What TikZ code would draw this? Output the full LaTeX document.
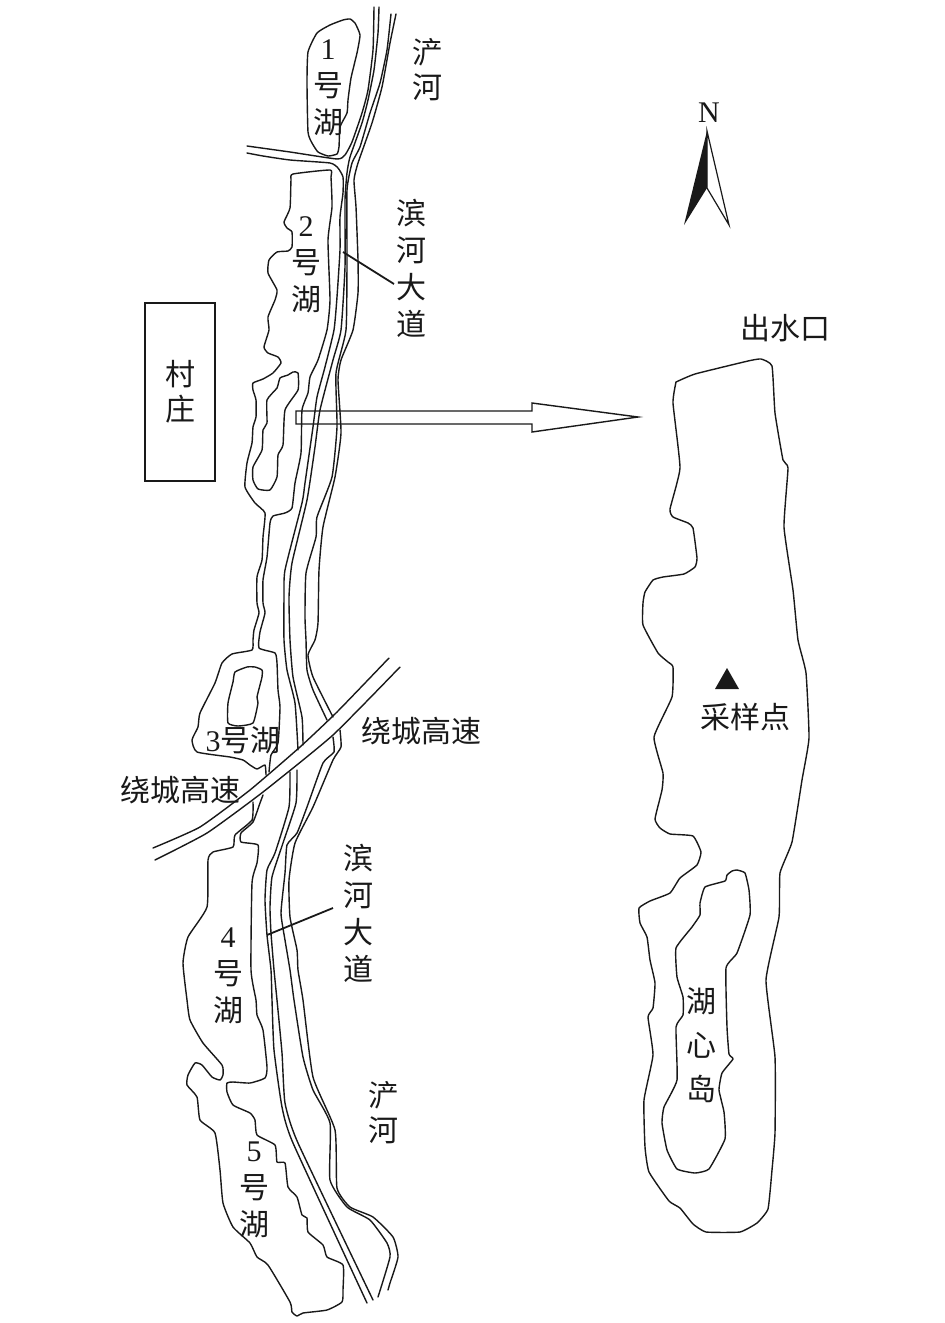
\documentclass[tikz,border=0pt]{standalone}
\usepackage{fontspec}
\setmainfont{Noto Sans CJK SC}
\newfontfamily\cjk{Noto Sans CJK SC}
\newfontfamily\lat{Liberation Serif}
\tikzset{
  ln/.style={draw=black!90,line width=1.4pt,line join=round,line cap=round},
  cvv/.style={smooth,tension=0.3},
  lab/.style={inner sep=0pt,align=center,text=black!90,font=\cjk\fontsize{30}{37}\selectfont},
  leader/.style={draw=black!90,line width=1.8pt}
}
\begin{document}
\begin{tikzpicture}[x=1pt,y=-1pt]
\useasboundingbox (0,0) rectangle (945,1323);
\fill[white] (0,0) rectangle (945,1323);

% lake 1
\draw[ln] plot[smooth cycle,tension=0.3] coordinates {(350,19)(355,23)(360,35)(357,53)(351,78)(348,100)(347,113)(340,127)(339,147)(337,154)(328,156)(318,152)(312,143)(308,132)(307,83)(308,52)(317,33)(330,25)(343,20)};

% roads and river banks, upper part
\draw[ln] plot[cvv] coordinates {(247,146)(290,152)(337,159)(345,155)(352,142)(362,113)(368,90)(373,50)(374,7)};
\draw[ln] plot[cvv] coordinates {(247,153)(263,156)(290,160)(330,163)(338,168)(343,177)(343,193)(340,217)(340,250)(337,297)(334,330)(325,367)(317,397)(313,427)(305,483)(302,503)(285,570)(284,597)(284,640)(287,670)(295,703)(298,750)};
\draw[ln] plot[cvv] coordinates {(379,7)(378,33)(374,70)(368,100)(362,123)(350,157)(347,173)(345,200)(345,267)(341,330)(333,360)(320,410)(315,447)(307,500)(292,563)(289,597)(290,640)(293,677)(302,717)(303,745)};
\draw[ln] plot[cvv] coordinates {(391,14)(387,50)(380,83)(370,113)(360,147)(352,163)(347,190)(347,260)(346,330)(336,373)(337,427)(332,477)(317,517)(316,537)(306,573)(305,617)(306,640)(307,670)(313,690)(327,720)};
\draw[ln] plot[cvv] coordinates {(396,14)(390,43)(382,87)(372,123)(358,163)(354,180)(356,207)(358,260)(358,293)(353,330)(341,360)(338,380)(341,433)(335,477)(323,527)(319,570)(318,623)(315,640)(308,655)(313,677)(333,717)};

% roads and river banks, lower part
\draw[ln] plot[cvv] coordinates {(290,772)(289,807)(275,853)(267,870)(265,900)(267,935)(271,970)(272,1000)(274,1050)(282,1107)(293,1143)(367,1303)};
\draw[ln] plot[cvv] coordinates {(297,770)(296,803)(283,843)(272,877)(270,907)(271,933)(274,970)(277,1000)(282,1053)(285,1103)(298,1143)(373,1300)};
\draw[ln] plot[cvv] coordinates {(333,737)(334,752)(323,763)(307,807)(297,833)(287,845)(285,873)(281,913)(285,940)(290,970)(294,1000)(303,1057)(313,1090)(330,1123)(330,1180)(347,1207)(370,1220)(387,1243)(390,1257)(378,1297)};
\draw[ln] plot[cvv] coordinates {(340,730)(341,747)(333,760)(313,807)(295,843)(289,880)(290,917)(297,950)(298,970)(303,1000)(313,1077)(335,1130)(337,1188)(350,1207)(373,1217)(393,1237)(398,1257)(390,1283)(388,1290)};

% lakes 3 and 2 with the channel between them
\draw[ln] plot[cvv] coordinates {(266,775)(265,765)(257,769)(250,765)(243,760)(230,757)(197,752)(192,740)(198,727)(200,713)(215,683)(222,663)(232,654)(252,650)(253,640)(254,630)(259,613)(257,603)(257,577)(262,560)(263,537)(265,513)(255,503)(245,487)(247,463)(252,443)(253,427)(256,417)(256,400)(253,390)(253,383)(263,379)(273,373)(281,363)(278,357)(268,353)(264,347)(269,330)(268,317)(275,300)(277,290)(268,273)(269,260)(277,252)(288,251)(292,247)(292,232)(287,228)(284,222)(290,208)(291,180)(293,174)(330,170)(331,177)(332,207)(328,240)(330,300)(327,330)(318,360)(310,377)(308,393)(302,410)(301,453)(295,483)(292,508)(285,513)(273,516)(270,523)(267,557)(263,580)(263,603)(265,613)(260,632)(259,648)(275,653)(277,663)(278,690)(280,707)(278,743)(271,755)(269,772)};
% island in lake 2
\draw[ln] plot[smooth cycle,tension=0.3] coordinates {(293,372)(298,373)(298,390)(285,410)(283,445)(278,455)(277,477)(270,490)(258,489)(253,480)(253,467)(262,450)(263,430)(267,423)(267,400)(277,388)(280,378)(288,375)};
% island in lake 3
\draw[ln] plot[smooth cycle,tension=0.3] coordinates {(247,667)(235,672)(233,682)(228,703)(228,723)(238,726)(253,723)(258,703)(257,697)(262,677)(262,670)(255,667)};

% lakes 4 and 5
\draw[ln] plot[cvv] coordinates {(253,802)(252,820)(235,835)(233,847)(213,852)(208,860)(207,907)(188,937)(183,963)(187,1000)(190,1020)(203,1043)(222,1065)(223,1075)(220,1080)(212,1077)(202,1065)(195,1063)(188,1075)(187,1085)(197,1097)(200,1120)(215,1133)(220,1170)(223,1203)(233,1227)(250,1243)(257,1257)(268,1265)(290,1302)(292,1312)(297,1316)(303,1313)(327,1310)(342,1302)(343,1290)(343,1265)(327,1257)(323,1245)(308,1232)(307,1218)(302,1215)(297,1197)(288,1187)(285,1163)(277,1162)(275,1145)(257,1135)(255,1120)(250,1113)(233,1105)(227,1092)(227,1083)(233,1082)(250,1083)(265,1078)(267,1067)(263,1030)(257,1015)(256,1000)(251,970)(252,883)(257,863)(258,845)(241,842)(241,833)(253,822)(260,803)(263,795)};

% highway
\draw[ln] plot[cvv] coordinates {(153,848)(200,827)(250,790)(300,747)(337,712)(389,658)};
\draw[ln] plot[cvv] coordinates {(155,860)(207,833)(263,792)(333,735)(400,667)};

% leader lines
\coordinate (la1) at (343,252);
\coordinate (lb1) at (394,284);
\coordinate (la2) at (267,935);
\coordinate (lb2) at (333,908);
\draw[leader] (la1) -- (lb1);
\draw[leader] (la2) -- (lb2);

% village
\node[lab,font=\cjk\fontsize{30}{35}\selectfont,draw=black!90,line width=1.4pt,minimum width=70pt,minimum height=178pt] (village) at (180,392) {村\\庄};

% big arrow
\draw[ln,line join=miter] (296,411) -- (532,411) -- (532,403) -- (638,417) -- (532,432) -- (532,424) -- (296,424) -- cycle;

% enlarged lake
\draw[ln] plot[smooth,tension=0.25] coordinates {(676,382)(673,403)(680,468)(670,509)(673,517)(688,523)(693,528)(697,558)(695,567)(684,574)(663,577)(653,580)(645,592)(643,603)(643,625)(658,653)(668,662)(673,667)(672,697)(654,737)(663,773)(662,790)(655,819)(660,828)(670,834)(693,836)(701,852)(697,865)(680,878)(670,893)(650,901)(639,908)(640,923)(647,937)(650,960)(655,983)(653,1008)(648,1017)(653,1055)(644,1100)(645,1147)(649,1172)(669,1201)(680,1208)(693,1224)(706,1232)(740,1232)(757,1223)(768,1209)(772,1170)(775,1133)(775,1057)(766,980)(779,917)(780,873)(792,842)(802,780)(809,738)(806,673)(798,640)(793,590)(784,527)(788,468)(783,460)(775,413)(772,366)(761,359)(748,361)(695,374)(676,382)};
% island
\draw[ln] plot[smooth cycle,tension=0.25] coordinates {(737,870)(745,873)(749,890)(750,915)(737,953)(726,968)(727,1027)(729,1054)(733,1059)(722,1073)(719,1090)(724,1112)(725,1139)(709,1169)(695,1173)(677,1169)(667,1150)(662,1123)(664,1107)(677,1080)(676,1027)(683,1015)(683,997)(677,977)(676,948)(692,927)(700,915)(700,903)(705,887)(725,881)(727,875)(732,871)};

% sampling point
\fill[black!90] (727,668) -- (715,689) -- (739,689) -- cycle;

% north arrow
\fill[black!90] (707,131) -- (684,225) -- (707,188) -- cycle;
\draw[draw=black!90,line width=1.2pt,line join=miter] (707,131) -- (729,225) -- (707,188) -- cycle;
\node[lab,font=\lat\fontsize{30}{30}\selectfont] (north) at (709,113) {N};

% labels
\node[lab] (t1) at (328,88) {{\lat 1}\\号\\湖};
\node[lab] (t2) at (306,265) {{\lat 2}\\号\\湖};
\node[lab] (t3) at (243,740) {{\lat 3}号湖};
\node[lab] (t4) at (228,976) {{\lat 4}\\号\\湖};
\node[lab] (t5) at (254,1190) {{\lat 5}\\号\\湖};
\node[lab,font=\cjk\fontsize{30}{35}\selectfont] (r1) at (427,70) {浐\\河};
\node[lab,font=\cjk\fontsize{30}{35}\selectfont] (r2) at (383,1113) {浐\\河};
\node[lab] (b1) at (411,268) {滨\\河\\大\\道};
\node[lab] (b2) at (358,913) {滨\\河\\大\\道};
\node[lab] (h1) at (421,731) {绕城高速};
\node[lab] (h2) at (180,790) {绕城高速};
\node[lab] (out) at (785,328) {出水口};
\node[lab] (samp) at (745,717) {采样点};
\node[lab,font=\cjk\fontsize{30}{44}\selectfont] (isl) at (701,1045) {湖\\心\\岛};
\end{tikzpicture}
\end{document}
